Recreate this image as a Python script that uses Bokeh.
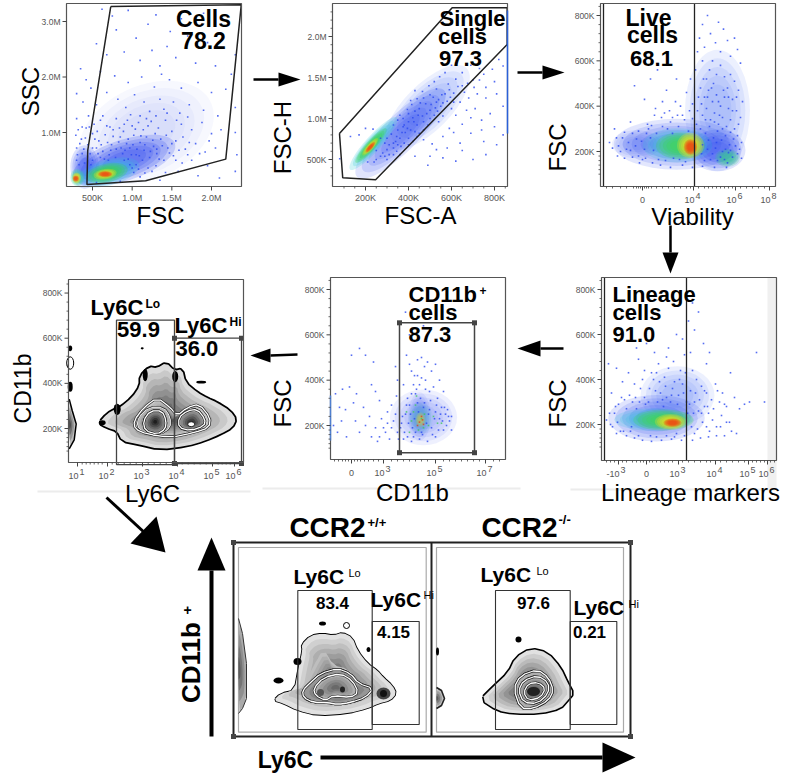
from math import radians, pi
from bokeh.plotting import figure
from bokeh.models import Range1d
from bokeh.core.properties import value
from bokeh.embed import file_html
from bokeh.resources import INLINE

# ---------- values ----------
# Cells panel: FSC (M), SSC (M)
cells_gate = [(0.73,3.27),(2.375,3.30),(2.18,0.52),(1.17,0.13),(0.43,0.065),(0.44,0.68)]
cells_dots = [(0.75,3.1),(0.95,3.2),(1.3,3.12),(1.62,3.05),(1.9,3.15),(2.2,3.0),(0.62,3.22),(0.55,2.6),(0.8,2.85),(1.05,2.7),(1.2,2.95),(1.48,2.82),(1.44,2.55),(1.7,2.74),(1.95,2.62),(2.15,2.7),(2.3,2.4),(0.68,2.4),(0.9,2.45),(1.1,2.3),(1.25,2.48),(1.35,2.2),(1.37,2.05),(1.55,2.35),(1.8,2.25),(2.05,2.2),(2.25,2.05),(0.35,2.15),(0.42,1.95),(0.6,2.1),(0.78,2.02),(0.95,1.9),(1.12,2.0),(1.28,1.82),(1.47,1.95),(1.62,1.8),(1.83,1.9),(2.0,1.72),(2.18,1.78),(0.3,1.7),(0.38,1.55),(0.48,1.8),(0.55,1.5),(0.68,1.72),(0.82,1.6),(0.92,1.45),(1.03,1.68),(1.15,1.55),(1.22,1.38),(1.35,1.6),(1.4,1.42),(1.52,1.55),(1.6,1.35),(1.72,1.5),(1.9,1.4),(2.08,1.3),(2.3,1.45),(0.3,1.25),(0.37,1.1),(0.45,1.3),(0.52,1.15),(0.63,1.3),(0.72,1.1),(0.8,1.25),(0.9,1.15),(0.98,1.32),(1.08,1.18),(1.14,1.05),(1.24,1.2),(1.33,1.08),(1.42,1.22),(1.5,1.02),(1.62,1.15),(1.75,1.05),(1.88,1.18),(2.0,0.98),(2.12,1.05),(2.3,1.0),(0.29,0.95),(0.34,0.8),(0.41,0.9),(0.5,0.98),(0.58,0.85),(0.66,0.96),(0.74,0.78),(0.85,0.92),(0.93,0.8),(1.02,0.95),(1.1,0.82),(1.18,0.92),(1.27,0.75),(1.36,0.88),(1.45,0.72),(1.55,0.85),(1.67,0.7),(1.8,0.8),(1.92,0.65),(2.05,0.72),(2.32,0.6),(0.31,0.6),(0.39,0.7),(0.47,0.62),(0.55,0.72),(0.63,0.66),(0.71,0.6),(0.8,0.7),(0.88,0.62),(0.97,0.72),(1.05,0.6),(1.15,0.68),(1.22,0.55),(1.31,0.62),(1.4,0.5),(1.52,0.58),(1.63,0.45),(1.75,0.5),(1.95,0.4),(0.95,0.52),(1.05,0.42),(1.13,0.5),(1.2,0.36),(1.3,0.4),(1.42,0.28),(1.58,0.3),(1.83,0.22),(2.1,0.18),(2.3,0.3),(1.02,0.28),(1.1,0.2),(1.35,0.14),(0.85,0.12),(0.55,0.1),(0.6,0.55),(0.7,0.5),(0.5,0.5),(0.4,0.45),(0.3,0.5),
(0.33,0.42),(0.37,0.62),(0.42,1.08),(0.44,0.78),(0.48,0.42),(0.53,0.88),(0.57,0.62),(0.61,0.78),(0.65,0.52),(0.69,0.82),(0.73,0.68),(0.76,0.93),(0.79,0.55),(0.83,0.83),(0.86,0.72),(0.89,1.02),(0.91,0.68),(0.95,0.88),(0.99,0.6),(1.01,0.78),(1.04,1.06),(1.06,0.7),(1.09,0.58),(1.11,0.94),(1.16,0.78),(1.2,1.12),(1.23,0.66),(1.26,0.86),(1.29,0.98),(1.31,0.7),(1.34,0.52),(1.38,0.76),(1.43,0.95),(1.47,0.63),(1.5,0.8),(1.55,0.5),(1.59,0.68),(1.64,0.92),(1.7,0.6),(1.72,0.82),(1.85,0.62),(1.97,0.85),(0.9,0.5),(0.97,0.42),(1.0,0.36),(1.08,0.34),(1.16,0.27),(1.25,0.3),(0.36,0.88),(0.32,1.05),(0.3,0.72),(0.5,0.72),(0.46,1.1),(0.56,1.02),(0.6,1.22),(0.68,1.12),(0.76,1.05),(0.84,1.08),(0.94,1.22),(1.0,1.12),(1.1,1.3),(1.18,1.25),(1.3,1.3),(1.44,1.35),(1.56,1.22),(1.7,1.28)]
cells_cloud = [(1.18,1.0,1.6,1.5,25,"#5a78f5",0.16),(0.9,0.5,1.2,0.66,18,"#2846f0",0.6),(0.4,0.38,0.32,0.7,0,"#2846f0",0.5),(0.7,0.28,0.72,0.42,15,"#30c0e0",0.65),(0.68,0.27,0.48,0.3,12,"#40d848",0.85),(0.66,0.25,0.26,0.17,8,"#f2e020",0.9),(0.66,0.25,0.16,0.1,0,"#f03a10",0.9),(0.31,0.19,0.16,0.28,0,"#40d8a0",0.8),(0.3,0.18,0.1,0.18,0,"#f2e020",0.9),(0.29,0.17,0.07,0.1,0,"#f03a10",0.9)]
# Single cells panel: FSC-A (K), FSC-H (K)
single_gate = [(79,817),(603,2350),(859,2350),(859,1902),(247,252),(94,277)]
single_dots = [(80,510),(130,780),(170,800),(200,880),(235,870),(250,610),(290,700),(310,560),(330,640),(345,600),(380,700),(370,830),(330,920),(360,1040),(395,1110),(420,1010),(430,1340),(410,860),(440,920),(465,1030),(480,1180),(500,1290),(530,1360),(555,1290),(585,1420),(620,1480),(650,1560),(690,1650),(730,1610),(600,1650),(570,1560),(545,1510),(520,1450),(495,1400),(465,1330),(440,1240),(450,820),(490,920),(520,1040),(550,1150),(580,1210),(610,1310),(650,1400),(700,1470),(750,1540),(790,1600),(820,1720),(840,1640),(800,1450),(760,1380),(720,1300),(680,1250),(640,1200),(600,1120),(560,1030),(540,960),(590,880),(620,1040),(670,1100),(710,1120),(760,1250),(810,1300),(840,1150),(780,1060),(740,980),(690,1010),(650,930),(610,830),(560,780),(510,690),(470,740),(530,620),(580,640),(640,700),(690,820),(740,860),(800,900),(840,800),(810,680),(750,720),(650,610),(560,520),(500,540),(760,560),(700,500),(430,540),(490,430),(620,480),(450,1120),(500,1100),(540,1230),(400,960),(430,1090),(470,1250),(590,1350),(380,920),(350,860),(320,810),(300,760),(270,760),(400,760),(430,840),(365,660),(340,720),(280,580),(250,500),(300,500),(360,560),
(395,880),(415,1170),(425,960),(445,1040),(455,1190),(470,960),(485,1060),(505,1170),(515,1260),(525,1130),(535,1090),(560,1190),(570,1300),(595,1260),(610,1200),(630,1390),(660,1320),(675,1430),(705,1380),(730,1470),(350,980),(375,1000),(345,780),(360,760),(385,830),(400,1060),(410,1220),(375,900),(330,700),(310,680),(350,680),(300,620),(270,540),(240,470),(210,470),(330,560),(290,540),(400,680),(420,720),(440,780),(470,860),(500,1000),(530,1200)]
single_cloud = [(488,1134,460,500,45,"#3a5cf0",0.3),(363,817,510,390,45,"#2846f0",0.45),(237,695,290,170,48,"#30c8d8",0.7),(225,670,190,110,48,"#40d848",0.85),(222,655,95,72,48,"#f2e020",0.9),(222,650,58,48,48,"#f03a10",0.9)]
# Live cells panel: Viability (channel), FSC (K)
live_gate_x = [-39, 52]
live_dots = [(-33,240),(-28,300),(-25,180),(-20,260),(-16,210),(-12,330),(-8,490),(-3,150),(2,430),(8,520),(6,300),(12,360),(15,560),(20,420),(24,470),(30,350),(34,520),(38,400),(44,460),(48,520),(50,410),(53,560),(55,640),(57,700),(60,760),(62,660),(65,800),(68,720),(70,600),(73,680),(76,770),(78,640),(81,740),(85,690),(88,620),(92,700),(95,650),(98,590),(60,600),(64,520),(67,560),(71,500),(74,540),(78,580),(82,530),(85,480),(88,540),(92,510),(96,470),(100,420),(58,480),(62,440),(66,470),(70,420),(74,450),(78,400),(82,440),(86,390),(90,430),(94,380),(98,350),(55,380),(60,360),(64,390),(68,340),(72,370),(76,320),(80,350),(84,310),(88,340),(92,300),(95,270),(99,240),(58,300),(63,280),(67,310),(71,260),(75,290),(79,250),(83,270),(87,230),(91,255),(95,190),(99,170),(60,230),(65,210),(70,190),(75,160),(80,200),(85,150),(90,175),(25,300),(30,280),(36,310),(42,340),(46,290),(20,310),(14,280),(8,260),(2,210),(-4,180),(-10,280),(-18,170),(10,150),(18,140),(28,130),(40,140),(50,130),(60,135),(72,130),(84,130),
(-30,215),(-26,260),(-22,200),(-18,285),(-14,240),(-10,175),(-7,225),(-4,290),(-1,245),(3,170),(4,280),(9,315),(11,205),(16,165),(19,350),(23,160),(27,380),(31,170),(33,420),(37,165),(40,360),(43,155),(47,380),(50,345),(54,320),(56,440),(59,410),(61,520),(63,340),(65,440),(66,250),(69,480),(72,330),(73,215),(76,420),(77,360),(80,300),(81,470),(83,210),(86,440),(88,285),(90,380),(93,225),(94,440),(96,320),(97,210),(59,190),(62,160),(68,165),(74,240),(78,175),(82,165),(86,195),(88,205),(-24,225),(-12,205),(-6,255),(0,165),(5,320),(13,390),(22,370),(28,330),(35,360)]
live_cloud = [(-6,232,44,110,0,"#4a68f5",0.3),(34,232,112,200,0,"#2846f0",0.42),(75,381,58,480,0,"#3a5cf0",0.3),(75,205,50,165,0,"#2846f0",0.45),(35,227,62,135,0,"#30c8d8",0.55),(38,225,44,105,0,"#40d848",0.75),(48,227,24,100,0,"#f2e020",0.9),(48,220,12,62,0,"#f03a10",0.95),(85,172,22,70,0,"#30c890",0.7)]
# Lineage panel: Lineage markers (channel), FSC (K)
lin_gate_x = [-42, 40]
lin_dots = [(-38,470),(-30,450),(-24,390),(-35,340),(-18,430),(-12,380),(-8,490),(-2,440),(3,360),(8,520),(12,470),(18,410),(22,540),(27,480),(30,600),(34,440),(38,510),(42,660),(46,740),(48,620),(52,700),(57,560),(60,470),(63,520),(46,440),(50,400),(55,370),(60,340),(65,310),(69,380),(73,300),(76,340),(80,280),(84,430),(88,320),(93,270),(98,290),(103,300),(110,520),(118,300),(58,280),(62,250),(66,220),(70,190),(75,240),(80,210),(85,170),(90,160),(78,150),(70,150),(62,145),(54,140),(46,130),(-32,250),(-26,170),(-20,150),(-12,140),(-4,130),(5,125),(15,130),(25,135),(35,130),(-40,220),(-36,200),(14,340),(20,320),(26,360),(32,330),(36,380),(-2,320),(-6,360),(-14,300),(-22,310),(-28,290),(40,300),(44,350),(48,300),(52,260),(56,210),(60,190),(7,400),(11,300),(17,280),(24,300),(-10,270),(-16,170),(4,150),(30,160),(10,430),(20,500),(0,560),(-10,540),(36,580),(44,520),
(-37,250),(-34,190),(-31,280),(-29,210),(-25,320),(-23,170),(-20,270),(-17,330),(-15,190),(-11,320),(-7,300),(-4,400),(-1,290),(2,300),(5,430),(9,350),(13,390),(16,310),(19,370),(22,450),(25,330),(28,390),(31,290),(33,400),(37,340),(39,430),(41,250),(43,290),(45,190),(47,250),(49,340),(51,180),(53,310),(55,250),(58,350),(61,280),(63,170),(67,270),(71,350),(74,190),(78,290),(83,210),(-30,160),(-8,150),(10,145),(20,150),(28,145),(38,150),(48,160)]
lin_cloud = [(10,228,86,185,0,"#2846f0",0.45),(31,330,66,230,0,"#3a5cf0",0.3),(7,222,70,90,0,"#30c8d8",0.6),(17,220,54,84,0,"#40d848",0.75),(24,212,28,62,0,"#f2e020",0.9),(26,208,16,34,0,"#f03a10",0.95)]
# CD11b panel: CD11b (channel), FSC (K)
cd_gate = [(48,80),(123,653)]
cd_dots = [(-18,200),(-14,170),(-10,220),(-5,150),(-2,370),(0,510),(8,540),(14,510),(20,380),(22,480),(24,350),(28,310),(5,340),(-9,360),(12,280),(18,240),(24,190),(30,230),(34,170),(38,140),(42,220),(40,290),(45,330),(46,400),(44,460),(52,380),(55,510),(58,470),(60,440),(63,420),(66,490),(70,500),(73,460),(76,480),(80,440),(84,470),(88,400),(92,350),(72,640),(58,600),(54,700),(64,340),(68,380),(74,400),(78,350),(82,370),(86,320),(90,280),(94,250),(98,220),(100,180),(92,180),(84,150),(76,130),(68,140),(60,130),(52,140),(46,170),(50,210),(54,250),(58,290),(62,150),(70,170),(80,190),(88,230),(36,260),(32,190),(28,150),(26,130),(20,150),(14,200),(8,170),(4,220),(2,300),(-16,340),(-6,270),(-12,280),(100,240),(96,270),(60,340),(56,320),(66,300),(72,280),(78,270),(84,260),
(49,190),(51,240),(53,170),(55,290),(57,210),(59,250),(61,190),(63,230),(65,360),(67,260),(69,320),(71,160),(73,300),(75,210),(77,250),(79,310),(81,160),(83,230),(85,290),(87,180),(89,250),(91,220),(93,280),(95,200),(97,240),(70,410),(66,420),(62,380),(74,360),(40,190),(36,210),(44,250),(47,140),(56,150),(64,170)]
cd_green = [(55,260),(60,220),(64,290),(67,180),(70,230),(73,250),(77,200),(82,240),(86,210),(58,170),(65,330),(62,260),(72,190),(90,210)]
cd_red = [(68,215),(70,240),(72,205),(66,200),(71,225)]
cd_cloud = [(72,236,60,220,0,"#2846f0",0.24),(68,240,20,190,0,"#2846f0",0.25),(69,232,22,125,0,"#30c0c0",0.3),(69,225,9,60,0,"#e0d030",0.5)]
# Ly6C contour panel: Ly6C (channel), CD11b (K)
ly_outer = [(72.6,224),(81,266),(89,286),(94,293),(106,337),(114,389),(114,433),(123,473),(131,467),(140,492),(148,455),(156,463),(159,404),(171,359),(181,334),(191,315),(204,278),(210,241),(206,204),(194,175),(178,145),(161,123),(134,108),(111,131),(96,145),(91,190),(81,204)]
ly_mid = [(107.6,234),(117.6,293),(131,337),(144,293),(151,256),(161,293),(173,308),(184,249),(183,204),(168,182),(144,160),(121,175),(109,197)]
ly_left1 = [(112.6,249),(122.6,293),(137.6,293),(144,249),(144,204),(134,175),(117.6,182),(111,212)]
ly_left2 = [(117,234),(124,278),(136,278),(140,234),(139,197),(131,175),(119,190)]
ly_right = [(152.6,249),(161,278),(171,286),(179,241),(178,212),(164,190),(152.6,204)]
ly_lobe = [(43,330),(46,280),(50,220),(48,150),(43,110)]
ly_lo_gate = [(90.3,40),(148.3,680)]
ly_hi_gate = [(148.3,45),(215.3,600)]
# CCR2+/+ contour panel
wt_outer = [(103,73),(110,80),(124,83),(128,106),(132,123),(131,129),(140,138),(152,140),(163,138),(172,141),(182,136),(187,123),(197,110),(207,103),(213,96),(222,88),(226,80),(220,73),(208,70),(197,65),(177,60),(147,58),(127,63),(113,70)]
wt_mid = [(133,86),(142,106),(153,125),(163,108),(177,105),(190,90),(203,85),(197,76),(177,70),(157,68),(140,73),(130,78)]
wt_line1 = [(132,83),(140,91),(150,100),(167,105),(180,100),(188,90),(203,85),(195,76),(180,71),(167,69),(157,71),(143,71),(133,76)]
wt_line2 = [(143,85),(153,96),(170,100),(182,93),(188,81),(180,76),(163,78),(155,73),(145,78)]
wt_lobe = [(68,155),(72,140),(76,110),(76,75),(72,65),(68,60)]
wt_lo_gate = [(127.3,44),(201.7,183)]
wt_hi_gate = [(201.7,49),(248.7,152)]
# CCR2-/- contour panel
ko_outer = [(60,74),(72,86),(88,101),(95,116),(110,125),(127,121),(140,106),(147,91),(153,80),(147,73),(140,65),(120,60),(93,60),(77,63)]
ko_line1 = [(93,85),(100,98),(117,104),(128,96),(133,83),(128,73),(113,65),(100,65)]
ko_line2 = [(98,83),(103,93),(117,98),(128,91),(128,80),(117,70),(103,71)]
ko_line3 = [(103,81),(108,90),(118,91),(125,85),(120,76),(108,73)]
ko_lobe = [(16,86),(21,83),(24,75),(21,68),(16,65)]
ko_lo_gate = [(75,44),(149.7,183)]
ko_hi_gate = [(149.7,49),(196.3,152)]

cells_xticks = [(0.5,"500K"),(1.0,"1.0M"),(1.5,"1.5M"),(2.0,"2.0M")]
cells_yticks = [(1.0,"1.0M"),(2.0,"2.0M"),(3.0,"3.0M")]
single_xticks = [(200,"200K"),(400,"400K"),(600,"600K"),(800,"800K")]
single_yticks = [(500,"500K"),(1000,"1.0M"),(1500,"1.5M"),(2000,"2.0M")]
fsc_yticks = [(200,"200K"),(400,"400K"),(600,"600K"),(800,"800K")]
live_xticks = [(0,"0",""),(51,"10","4"),(93,"10","6"),(127,"10","8")]
ly_xticks = [(51.3,"10","1"),(81.3,"10","2"),(116.3,"10","3"),(151.3,"10","4"),(186.3,"10","5"),(208.3,"10","6")]
cd_xticks = [(0,"0",""),(32,"10","3"),(84,"10","5"),(134,"10","7")]
lin_xticks = [(-28,"-10","3"),(0,"0",""),(32,"10","3"),(69,"10","4"),(102,"10","5"),(121,"10","6")]
fsc_minor = [100,120,140,160,180,240,280,320,360,440,480,520,560,640,680,720,760,840]

# ---------- drawing ----------
FONT = value("Liberation Sans")
L, R, T, B = 0, 800, 0, 773
p = figure(width=800, height=773, x_range=Range1d(L, R), y_range=Range1d(B, T),
           output_backend="svg", toolbar_location=None, min_border=0,
           x_axis_location=None, y_axis_location=None, outline_line_color=None)
p.grid.visible = False
p.background_fill_color = "white"

def txt(x, y, s, size=21, bold=True, align="center", angle=0, color="black"):
    p.text(x=[x], y=[y], text=[s], text_font=FONT, text_font_size=f"{size}px",
           text_font_style="bold" if bold else "normal", text_align=align,
           text_baseline="middle", angle=angle, text_color=color)

def round_poly(poly):
    # corner-cut the outline read from the picture, so that it is drawn without sharp corners
    out = []
    n = len(poly)
    for i in range(n):
        a, b = poly[i], poly[(i + 1) % n]
        out.append((a[0] * 0.75 + b[0] * 0.25, a[1] * 0.75 + b[1] * 0.25))
        out.append((a[0] * 0.25 + b[0] * 0.75, a[1] * 0.25 + b[1] * 0.75))
    return out

class Panel:
    def __init__(self, name, frame, xcal, ycal):
        self.xn, self.yn = name + "x", name + "y"
        self.frame = frame
        xa, Xa, xb, Xb = xcal
        ya, Ya, yb, Yb = ycal
        self.sx = (xb - xa) / (Xb - Xa)
        self.sy = (yb - ya) / (Yb - Ya)
        self.xf = lambda X: xa + (X - Xa) * self.sx
        self.yf = lambda Y: ya + (Y - Ya) * self.sy
        self.px = lambda x: Xa + (x - xa) / self.sx
        p.extra_x_ranges[self.xn] = Range1d(self.xf(L), self.xf(R))
        p.extra_y_ranges[self.yn] = Range1d(self.yf(B), self.yf(T))
        self.kw = dict(x_range_name=self.xn, y_range_name=self.yn)

    def box(self, color="#555555"):
        l, t, r, b = self.frame
        p.quad(left=[l], right=[r], top=[t], bottom=[b], fill_color=None,
               line_color=color, line_width=1.2)

    def clouds(self, cloud):
        for cx, cy, w, h, a, c, al in cloud:
            for k in (1.12, 0.96, 0.8, 0.64, 0.48):
                p.ellipse(x=[cx], y=[cy], width=[w * k], height=[h * k], angle=radians(a),
                          fill_color=c, fill_alpha=al * 0.32, line_color=None, **self.kw)

    def dots(self, pts, color="#2a48f0", alpha=0.8, size=1.6):
        p.scatter(x=[q[0] for q in pts], y=[q[1] for q in pts], marker="square",
                  size=size, fill_color=color, fill_alpha=alpha, line_color=None, **self.kw)

    def line(self, pts, color="#222222", width=1.4, close=True):
        pts = list(pts) + ([pts[0]] if close else [])
        p.line(x=[q[0] for q in pts], y=[q[1] for q in pts], line_color=color,
               line_width=width, **self.kw)

    def rect(self, gate, color="#333333", width=1.2, handles=False):
        (x0, y0), (x1, y1) = gate
        p.quad(left=[x0], right=[x1], bottom=[y0], top=[y1], fill_color=None,
               line_color=color, line_width=width, **self.kw)
        if handles:
            p.scatter(x=[x0, x0, x1, x1], y=[y0, y1, y0, y1], marker="square", size=5,
                      fill_color="#444444", line_color=None, **self.kw)

    def vgate(self, xs):
        l, t, r, b = self.frame
        for x in xs:
            p.segment(x0=[x], x1=[x], y0=[self.yf(b)], y1=[self.yf(t)],
                      line_color="#222222", line_width=1.3, **self.kw)

    def ticks(self, xt, yt, xminor=(), yminor=(), xlab=11):
        l, t, r, b = self.frame
        yb, xl = self.yf(b), self.xf(l)
        for v in xminor:
            p.segment(x0=[v], x1=[v], y0=[yb], y1=[self.yf(b + 2)], line_color="#444444", line_width=0.8, **self.kw)
        for v in yminor:
            p.segment(x0=[xl], x1=[self.xf(l - 2)], y0=[v], y1=[v], line_color="#444444", line_width=0.8, **self.kw)
        for tk in xt:
            v = tk[0]
            p.segment(x0=[v], x1=[v], y0=[yb], y1=[self.yf(b + 4)], line_color="#444444", line_width=1, **self.kw)
            base = dict(text_font=FONT, text_font_size="9px", text_color="#555555", text_baseline="middle", **self.kw)
            if len(tk) == 2:
                p.text(x=[v], y=[self.yf(b + xlab)], text=[tk[1]], text_align="center", **base)
            elif tk[2] == "":
                p.text(x=[v], y=[self.yf(b + xlab + 2)], text=[tk[1]], text_align="center", **base)
            else:
                p.text(x=[self.xf(self.px(v) + 1)], y=[self.yf(b + xlab + 2)], text=[tk[1]], text_align="right", **base)
                p.text(x=[self.xf(self.px(v) + 2)], y=[self.yf(b + xlab - 2)], text=[tk[2]], text_align="left", **base)
        for v, s in yt:
            p.segment(x0=[xl], x1=[self.xf(l - 4)], y0=[v], y1=[v], line_color="#444444", line_width=1, **self.kw)
            p.text(x=[self.xf(l - 6)], y=[v], text=[s], text_align="right", text_font=FONT,
                   text_font_size="8.5px", text_color="#555555", text_baseline="middle", **self.kw)

    def shade(self, poly, c, light, dark, n=9):
        poly = round_poly(poly)
        for i in range(n):
            k = 1 - i / n
            g = int(light + (dark - light) * i / (n - 1))
            col = f"#{g:02x}{g:02x}{g:02x}"
            p.patch(x=[c[0] + (q[0] - c[0]) * k for q in poly], y=[c[1] + (q[1] - c[1]) * k for q in poly],
                    fill_color=col, line_color=None, **self.kw)

    def edge(self, poly, color="black", width=3):
        self.line(round_poly(poly), color=color, width=width)

    def contour(self, poly):
        self.edge(poly, color="#222222", width=2.6)
        self.edge(poly, color="white", width=1.3)

    def blob(self, x, y, w, h, c="black", line=None):
        p.ellipse(x=[x], y=[y], width=[w], height=[h], fill_color=c, line_color=line, **self.kw)

def arrow(tip, base, half, tail, width=2.5):
    """Horizontal or vertical page arrow."""
    p.segment(x0=[tail[0]], y0=[tail[1]], x1=[base[0]], y1=[base[1]], line_color="black", line_width=width)
    if tip[1] == base[1]:
        p.patch(x=[tip[0], base[0], base[0]], y=[tip[1], base[1] - half, base[1] + half], fill_color="black", line_color=None)
    else:
        p.patch(x=[tip[0], base[0] - half, base[0] + half], y=[tip[1], base[1], base[1]], fill_color="black", line_color=None)

# faint scan remnants
for x0, x1, y in [(37, 250, 491), (262, 520, 488), (570, 770, 489)]:
    p.segment(x0=[x0], x1=[x1], y0=[y], y1=[y], line_color="#ececec", line_width=2)

# --- Cells
c1 = Panel("a", (66, 3, 241, 186), (0.5, 92, 2.0, 211), (1.0, 132, 3.0, 21))
c1.clouds(cells_cloud); c1.dots(cells_dots); c1.line(cells_gate, width=1.5); c1.box()
c1.ticks(cells_xticks, cells_yticks)
txt(203, 18, "Cells", 23); txt(203, 40, "78.2", 23)
txt(30, 91, "SSC", 24, False, angle=pi/2); txt(160, 215, "FSC", 24, False)

# --- Single cells
c2 = Panel("b", (332, 3, 507, 186), (200, 365, 800, 494), (500, 159, 2000, 36))
c2.clouds(single_cloud); c2.dots(single_dots); c2.line(single_gate, width=1.5); c2.box()
c2.ticks(single_xticks, single_yticks, xminor=[100,150,250,300,350,450,500,550,650,700,750,850],
         yminor=[300,400,600,700,800,900,1100,1200,1300,1400,1600,1700,1800,1900,2100,2200,2300])
p.segment(x0=[507], x1=[507], y0=[10], y1=[133], line_color="#2a60d8", line_width=1.5)
txt(472, 18, "Single", 22); txt(462, 36, "cells", 22); txt(460, 58, "97.3", 22)
txt(282, 137, "FSC-H", 24, False, angle=pi/2); txt(420, 215, "FSC-A", 24, False)

# --- Live cells
c3 = Panel("c", (600, 3, 775, 186), (0, 642, 100, 742), (200, 151, 800, 15))
c3.clouds(live_cloud); c3.dots(live_dots); c3.vgate(live_gate_x); c3.box()
c3.ticks(live_xticks, fsc_yticks, xminor=[-36,-30,-22,-16,-9,-6,-4,-2,2,4,6,9,14,20,26,32,38,44,48,56,62,66,70,74,78,82,86,90,98,104,110,116,122],
         yminor=fsc_minor)
txt(648, 17, "Live", 23); txt(652, 34, "cells", 23); txt(651, 58, "68.1", 22)
txt(557, 147, "FSC", 24, False, angle=pi/2); txt(692, 216, "Viability", 24, False)

# --- Lineage
c6 = Panel("f", (601, 277, 776, 460), (0, 646, 100, 746), (200, 424, 800, 289))
p.quad(left=[767], right=[776], top=[277], bottom=[490], fill_color="#f0f0f0", line_color=None)
c6.clouds(lin_cloud); c6.dots(lin_dots); c6.vgate(lin_gate_x); c6.box()
c6.ticks(lin_xticks, fsc_yticks, xminor=[-40,-36,-32,-24,-20,-14,-10,-6,-3,3,6,10,14,18,22,26,36,42,48,54,60,64,74,80,86,92,98,106,110,114,118,124,128],
         yminor=fsc_minor)
txt(612, 294, "Lineage", 22, align="left"); txt(612, 312, "cells", 22, align="left"); txt(612, 334, "91.0", 22, align="left")
txt(557, 403, "FSC", 24, False, angle=pi/2); txt(690, 492, "Lineage markers", 24, False)

# --- CD11b
c5 = Panel("e", (330, 277, 505, 459), (0, 351, 100, 451), (200, 425, 800, 289))
c5.clouds(cd_cloud); c5.dots(cd_dots); c5.dots(cd_green, color="#40c860"); c5.dots(cd_red, color="#e04020")
c5.rect(cd_gate, width=1.5, color="#444444", handles=True); c5.box()
p.segment(x0=[330], x1=[330], y0=[395], y1=[440], line_color="#5080d0", line_width=1.5)
c5.ticks(cd_xticks, fsc_yticks, xminor=[-17,-13,-9,-6,-3,3,6,9,13,17,22,27,40,46,52,58,64,70,76,92,98,104,110,116,122,128,142,148],
         yminor=fsc_minor)
txt(408, 294, "CD11b", 22, align="left"); txt(479, 290, "+", 12, align="left")
txt(408, 312, "cells", 22, align="left"); txt(408, 334, "87.3", 22, align="left")
txt(282, 403, "FSC", 24, False, angle=pi/2); txt(412, 492, "CD11b", 24, False)

# --- Ly6C contour
c4 = Panel("d", (68, 279, 243, 462), (0, 25.7, 100, 125.7), (200, 428, 600, 337.7))
c4.edge(ly_outer, width=3.5)
c4.shade(ly_outer, (140, 235), 220, 70)
c4.shade(ly_mid, (145, 235), 200, 80)
c4.contour(ly_left1); c4.shade(ly_left1, (128, 232), 175, 70, 6); c4.contour(ly_left2)
c4.shade(ly_left2, (129, 230), 150, 30, 6); c4.contour(ly_left2)
c4.contour(ly_right); c4.shade(ly_right, (165, 225), 160, 40, 6); c4.contour(ly_right)
c4.blob(165, 219, 7, 22, "white", "#222222")
c4.contour(ly_mid)
c4.shade(ly_lobe, (43, 220), 190, 70, 4); c4.line(ly_lobe, color="black", width=1.5, close=False)
c4.blob(44, 555, 4, 25); c4.blob(44, 385, 5, 45); c4.blob(116, 555, 3, 10 ); c4.blob(175, 405, 10, 12)
c4.blob(44, 490, 7, 55, "white", "black")
c4.blob(119, 437, 5, 55); c4.blob(149, 430, 6, 50); c4.blob(91, 285, 7, 50); c4.blob(76, 226, 7, 22)
c4.rect(ly_lo_gate, width=1.3, color="#444444")
c4.rect(ly_hi_gate, width=1.3, color="#444444", handles=True)
c4.box()
c4.ticks(ly_xticks, fsc_yticks, xminor=[56,60,64,68,72,76,86,92,98,104,110,122,128,134,140,146,156,162,168,174,180,192,196,200,204],
         yminor=fsc_minor)
txt(90, 307, "Ly6C", 22, align="left"); txt(145, 303, "Lo", 12, align="left")
txt(138, 329, "59.9", 22); txt(174, 325, "Ly6C", 22, align="left"); txt(229, 321, "Hi", 12, align="left")
txt(175, 348, "36.0", 22, align="left")
txt(22, 388, "CD11b", 23, False, angle=pi/2); txt(152, 493, "Ly6C", 24, False)

# --- CCR2 panels
p.quad(left=[238], right=[425.7], top=[547], bottom=[731.7], fill_color=None, line_color="#aaaaaa", line_width=1.2)
p.quad(left=[436], right=[623], top=[547], bottom=[731.7], fill_color=None, line_color="#aaaaaa", line_width=1.2)
wt = Panel("g", (233, 542, 431, 736), (0, 170, 100, 270), (0, 773, 100, 673))
wt.edge(wt_outer, width=1.8)
wt.shade(wt_outer, (165, 95), 225, 90)
wt.blob(213, 80, 14, 12, "#444444"); wt.blob(213, 80, 7, 7, "#111111")
wt.shade(wt_mid, (165, 88), 190, 80)
wt.contour(wt_line1); wt.shade(wt_line1, (165, 85), 150, 80, 5); wt.contour(wt_line1)
wt.shade(wt_line2, (165, 86), 175, 105, 5); wt.contour(wt_line2)
wt.blob(172, 84, 5, 6, "#222222"); wt.blob(150, 81, 7, 7, "#555555")
wt.shade(wt_lobe, (68, 105), 170, 90, 4); wt.line(wt_lobe, color="#333333", width=1, close=False)
wt.blob(152, 150, 7, 4); wt.blob(176, 148, 6, 6, "white", "black"); wt.blob(127, 112, 8, 7); wt.blob(108, 93, 10, 6); wt.blob(198, 124, 4, 5)
wt.rect(wt_lo_gate, width=1.1, color="#333333"); wt.rect(wt_hi_gate, width=1.1, color="#333333")

ko = Panel("h", (431, 542, 630, 736), (0, 420, 100, 520), (0, 773, 100, 673))
ko.edge(ko_outer, width=3.2)
ko.shade(ko_outer, (108, 85), 225, 70)
ko.contour(ko_line1); ko.shade(ko_line1, (113, 82), 175, 90, 5); ko.contour(ko_line1)
ko.contour(ko_line2); ko.shade(ko_line2, (113, 82), 165, 95, 5); ko.contour(ko_line2)
ko.shade(ko_line3, (113, 82), 140, 60, 5); ko.contour(ko_line3)
ko.blob(113, 82, 13, 9, "#222222")
ko.shade(ko_lobe, (16, 75), 190, 90, 4); ko.line(ko_lobe, color="#222222", width=1.6, close=False)
ko.blob(17, 122, 3, 8); ko.blob(98, 134, 6, 6)
ko.rect(ko_lo_gate, width=1.1, color="#333333"); ko.rect(ko_hi_gate, width=1.1, color="#333333")

p.quad(left=[233], right=[630], top=[542], bottom=[736], fill_color=None, line_color="#222222", line_width=2)
p.segment(x0=[431], x1=[431], y0=[542], y1=[736], line_color="#222222", line_width=2)
p.scatter(x=[233, 233, 630, 630], y=[542, 736, 542, 736], marker="square", size=5, fill_color="#444444", line_color=None)

txt(327, 527, "CCR2", 28); txt(367, 522, "+/+", 13, align="left")
txt(519, 527, "CCR2", 28); txt(558, 519, "-/-", 13, align="left")
txt(293, 576, "Ly6C", 21, align="left"); txt(348, 572, "Lo", 11, False, align="left")
txt(332, 602, "83.4", 17); txt(370, 599, "Ly6C", 21, align="left"); txt(423, 594, "Hi", 11, False, align="left")
txt(393, 631, "4.15", 17)
txt(480, 574, "Ly6C", 21, align="left"); txt(536, 570, "Lo", 11, False, align="left")
txt(533, 602, "97.6", 17); txt(573, 607, "Ly6C", 21, align="left"); txt(628, 603, "Hi", 11, False, align="left")
txt(589, 631, "0.21", 17)
txt(190, 662, "CD11b", 26, angle=pi/2); txt(187, 609, "+", 14)
txt(285, 759, "Ly6C", 23)

# --- arrows
arrow((300, 79), (278, 79), 7, (253, 79))
arrow((564, 72), (542, 72), 7, (517, 72))
arrow((670, 273), (670, 252), 8, (670, 225))
arrow((517, 348), (540, 348), 8, (563, 348))
arrow((250, 355), (270, 355), 7, (297, 354))
arrow((211, 537), (211, 570), 14, (211, 736), width=4)
arrow((635, 757), (602, 757), 15, (320, 757), width=4)
p.segment(x0=[106], y0=[497], x1=[145], y1=[533], line_color="black", line_width=3)
p.patch(x=[165, 130, 156], y=[552, 543, 516], fill_color="black", line_color=None)

open("out.html", "w").write(file_html(p, INLINE))
